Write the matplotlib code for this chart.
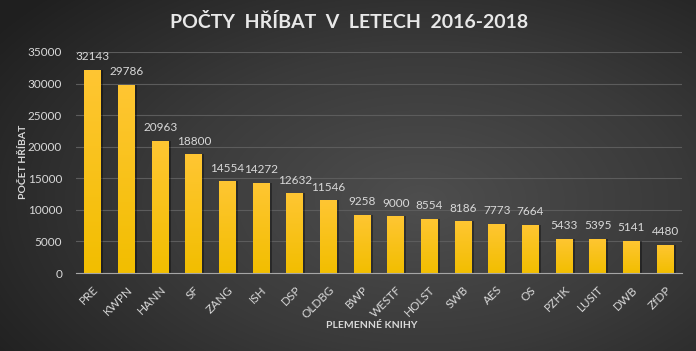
import matplotlib
matplotlib.use('Agg')
import matplotlib.pyplot as plt
from matplotlib.colors import LinearSegmentedColormap
import numpy as np

matplotlib.rcParams['font.family'] = ['Lato', 'DejaVu Sans']

categories = ['PRE', 'KWPN', 'HANN', 'SF', 'ZANG', 'ISH', 'DSP', 'OLDBG', 'BWP', 'WESTF',
              'HOLST', 'SWB', 'AES', 'OS', 'PZHK', 'LUSIT', 'DWB', 'ZfDP']
values = [32143, 29786, 20963, 18800, 14554, 14272, 12632, 11546, 9258, 9000,
          8554, 8186, 7773, 7664, 5433, 5395, 5141, 4480]
yticks = [0, 5000, 10000, 15000, 20000, 25000, 30000, 35000]

txt = '#d9d9d9'

fig = plt.figure(figsize=(6.96, 3.51), dpi=100)

# radial background
bg = fig.add_axes([0, 0, 1, 1])
yy, xx = np.mgrid[0:351, 0:696]
r = np.sqrt(((xx - 420) / 520.0) ** 2 + ((yy - 200) / 300.0) ** 2)
bg_cmap = LinearSegmentedColormap.from_list('bg', ['#4e4e4e', '#3a3a3a', '#1f1f1f'])
bg.imshow(r, cmap=bg_cmap, vmin=0, vmax=1.0, aspect='auto', extent=[0, 1, 0, 1])
bg.axis('off')

ax = fig.add_axes([76 / 696, 1 - 273 / 351, (682 - 76) / 696, (273 - 52) / 351])
ax.patch.set_alpha(0)
x = np.arange(len(categories))
bars = ax.bar(x, values, width=0.5, color='#ffc000', edgecolor='none', zorder=3)

# vertical gradient on bars
grad = np.linspace(1, 0, 256).reshape(-1, 1)
bar_cmap = LinearSegmentedColormap.from_list('bar', ['#f2be00', '#ffc633'])
for b in bars:
    # dark shadow on the right side
    ax.bar(b.get_x() + b.get_width() / 2 + 0.06, b.get_height(), width=0.5,
           color='#000000', alpha=0.35, zorder=2)
    im = ax.imshow(grad, cmap=bar_cmap, aspect='auto', zorder=4,
                   extent=[b.get_x(), b.get_x() + b.get_width(), 0, b.get_height()])
    im.set_clip_path(b)

for xi, v in zip(x, values):
    ax.text(xi, v + 1200, str(v), ha='center', va='bottom', color=txt, fontsize=8.5, zorder=5)

ax.set_xlim(-0.5, len(categories) - 0.5)
ax.set_ylim(0, 35000)
ax.set_yticks(yticks)
ax.set_yticklabels([str(t) for t in yticks], color=txt, fontsize=8.5)
ax.set_xticks(x)
ax.set_xticklabels(categories, rotation=45, ha='right', rotation_mode='anchor',
                   color=txt, fontsize=8.5)
ax.tick_params(length=0, pad=10)
ax.tick_params(axis='x', pad=8)
ax.yaxis.grid(True, color='#5c5c5c', linewidth=0.8, zorder=0)
for s in ['top', 'right', 'left']:
    ax.spines[s].set_visible(False)
ax.spines['bottom'].set_color('#a6a6a6')
ax.spines['bottom'].set_zorder(6)

fig.text(24 / 696, 1 - 162 / 351, 'POČET HŘÍBAT', color=txt, fontsize=7.5, fontweight='bold',
         rotation=90, ha='center', va='center')
fig.text(372 / 696, 1 - 326 / 351, 'PLEMENNÉ KNIHY', color=txt, fontsize=7.5,
         fontweight='bold', ha='center', va='center')
fig.text(349 / 696, 1 - 22 / 351, 'POČTY  HŘÍBAT  V  LETECH  2016-2018',
         color='#e8e8e8', fontsize=14, fontweight='bold', ha='center', va='center')

fig.savefig('out.png', dpi=100)
